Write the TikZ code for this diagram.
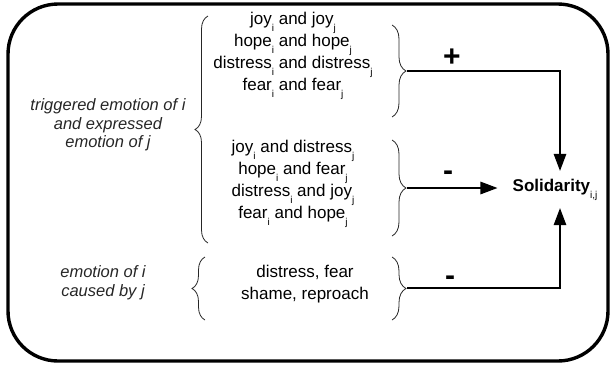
\documentclass[tikz,border=0pt]{standalone}
\usepackage{fontspec}
\setmainfont{Liberation Sans}
\usetikzlibrary{decorations.pathreplacing,arrows.meta,calc}

% lowered small index, as in joy_i
\newcommand{\lo}[1]{\raisebox{-7pt}[0pt][0pt]{\fontsize{10}{10}\selectfont #1}}

\begin{document}
\begin{tikzpicture}[x=1pt,y=-1pt,
  frame/.style={line width=3.4pt,rounded corners=50pt},
  brc/.style={decorate,decoration={brace,amplitude=#1},line width=0.8pt,draw=black!85},
  brc/.default=13pt,
  grp/.style={align=center,inner sep=0pt,font=\fontsize{17}{22}\selectfont},
  lbl/.style={align=center,inner sep=0pt,font=\itshape\fontsize{16.5}{18.7}\selectfont,text=black!85},
  sign/.style={inner sep=0pt,font=\bfseries\fontsize{30}{30}\selectfont},
  con/.style={line width=1.3pt},
  arr/.style={con,-{Triangle[length=17pt,width=12.5pt]}}]
\useasboundingbox (0,0) rectangle (613,368);

% outer frame
\draw[frame] (8,4) rectangle (608,361);

% left-hand labels
\node[lbl] (trig) at (108,125) {triggered emotion of i\\and expressed\\emotion of j};
\node[lbl] (caus) at (103,283) {emotion of i\\caused by j};

% emotion pairs and lists
\node[grp] (pos) at (293,51) {joy\lo{i} and joy\lo{j}\\hope\lo{i} and hope\lo{j}\\distress\lo{i} and distress\lo{j}\\fear\lo{i} and fear\lo{j}};
\node[grp] (neg) at (293,181) {joy\lo{i} and distress\lo{j}\\hope\lo{i} and fear\lo{j}\\distress\lo{i} and joy\lo{j}\\fear\lo{i} and hope\lo{j}};
\node[grp] (cause) at (305,284) {distress, fear\\shame, reproach};

% result
\node[inner sep=0pt,font=\bfseries\fontsize{17}{17}\selectfont] (sol) at (555,187) {Solidarity\lo{\mdseries i,j}};

% braces
\draw[brc] (208,243) -- (208,16);
\draw[brc=14pt] (392,25) -- (392,117);
\draw[brc=14pt] (392,140) -- (392,236);
\draw[brc] (205,320) -- (205,257);
\draw[brc=14pt] (392,257) -- (392,320);
\coordinate (t1) at (407,71);
\coordinate (t2) at (407,188);
\coordinate (t3) at (407,288);

% influences on solidarity
\draw[arr] (t1) -| ($(sol.north)+(5,-8)$);
\draw[arr] (t2) -- ($(t2 -| sol.west)+(-15,0)$);
\draw[arr] (t3) -| ($(sol.south)+(5,13)$);

\node[sign] (plus) at (452,58) {+};
\node[sign] (m1) at (448,176) {-};
\node[sign] (m2) at (450,281) {-};
\end{tikzpicture}
\end{document}
